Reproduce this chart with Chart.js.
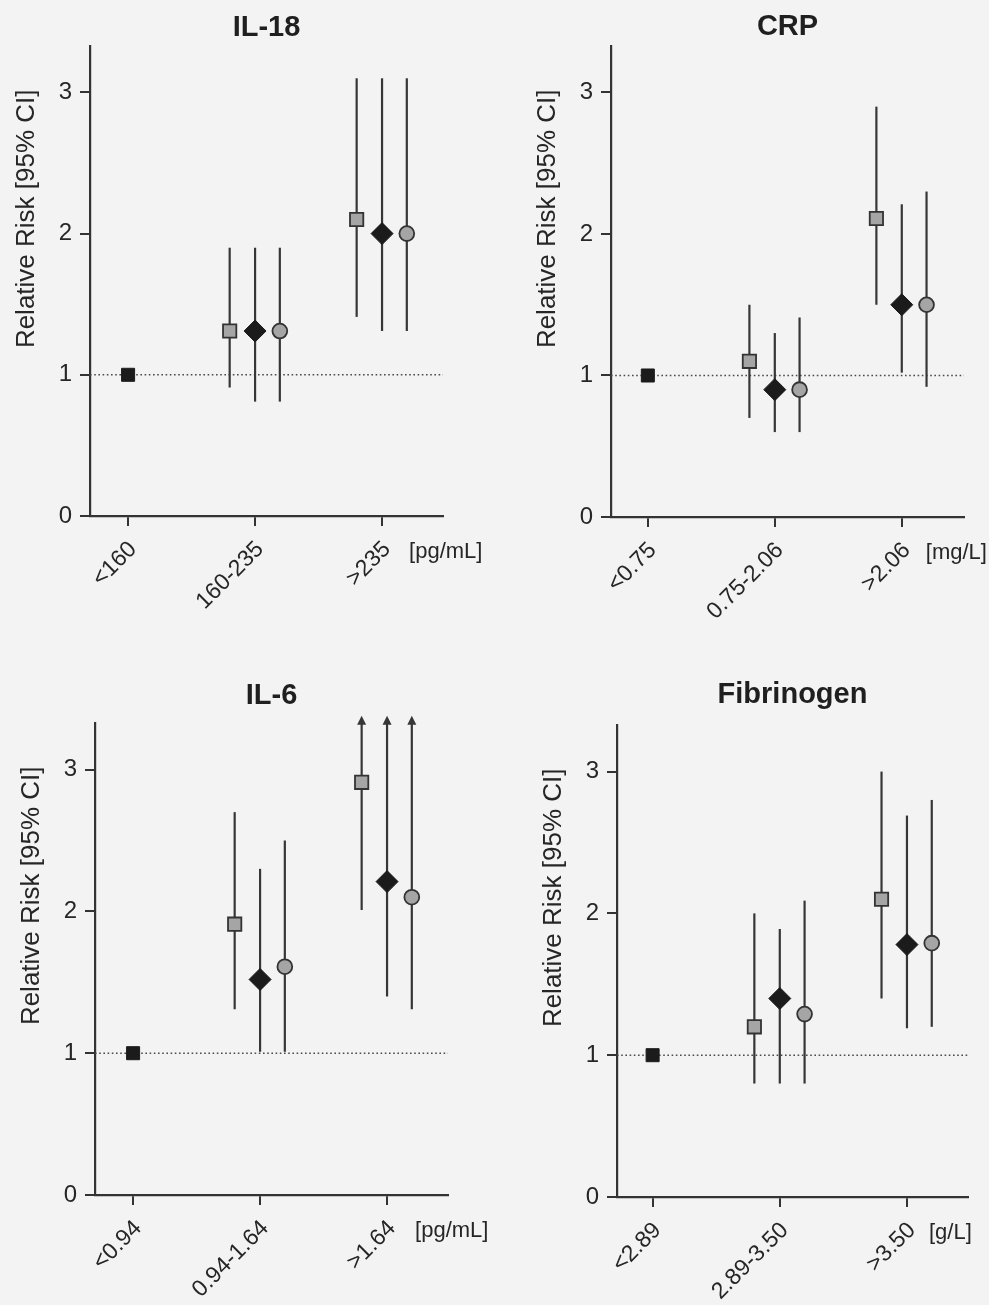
<!DOCTYPE html>
<html lang="en">
<head>
<meta charset="UTF-8">
<title>Relative risk by tertile</title>
<script src="https://cdn.jsdelivr.net/npm/chart.js@4.4.1/dist/chart.umd.min.js"></script>
<style>
  html, body { margin: 0; padding: 0; background: #f3f3f3; }
  #page { position: relative; width: 989px; height: 1305px; overflow: hidden; }
  .panel { position: absolute; }
  canvas { display: block; }
</style>
</head>
<body>
<div id="page">
  <div class="panel" style="left:0;top:0;"><canvas id="il18" width="495" height="640"></canvas></div>
  <div class="panel" style="left:495px;top:0;"><canvas id="crp" width="494" height="640"></canvas></div>
  <div class="panel" style="left:0;top:640px;"><canvas id="il6" width="495" height="665"></canvas></div>
  <div class="panel" style="left:495px;top:640px;"><canvas id="fib" width="494" height="665"></canvas></div>
</div>
<script>
// tertile labels
const il18Labels = ['<160', '160-235', '>235'];
const crpLabels = ['<0.75', '0.75-2.06', '>2.06'];
const il6Labels = ['<0.94', '0.94-1.64', '>1.64'];
const fibLabels = ['<2.89', '2.89-3.50', '>3.50'];

// lowest tertile is the reference group
const refRR = [1, null, null];

// three adjustment models per marker: estimate and [lower, upper] 95% CI
const il18Sq = [null, 1.31, 2.10];
const il18SqCI = [null, [0.91, 1.90], [1.41, 3.10]];
const il18Dm = [null, 1.31, 2.00];
const il18DmCI = [null, [0.81, 1.90], [1.31, 3.10]];
const il18Ci = [null, 1.31, 2.00];
const il18CiCI = [null, [0.81, 1.90], [1.31, 3.10]];

const crpSq = [null, 1.10, 2.11];
const crpSqCI = [null, [0.70, 1.50], [1.50, 2.90]];
const crpDm = [null, 0.90, 1.50];
const crpDmCI = [null, [0.60, 1.30], [1.02, 2.21]];
const crpCi = [null, 0.90, 1.50];
const crpCiCI = [null, [0.60, 1.41], [0.92, 2.30]];

// upper limit null = beyond the axis, drawn as an arrow
const il6Sq = [null, 1.91, 2.91];
const il6SqCI = [null, [1.31, 2.70], [2.01, null]];
const il6Dm = [null, 1.52, 2.21];
const il6DmCI = [null, [1.01, 2.30], [1.40, null]];
const il6Ci = [null, 1.61, 2.10];
const il6CiCI = [null, [1.01, 2.50], [1.31, null]];

const fibSq = [null, 1.20, 2.10];
const fibSqCI = [null, [0.80, 2.00], [1.40, 3.00]];
const fibDm = [null, 1.40, 1.78];
const fibDmCI = [null, [0.80, 1.89], [1.19, 2.69]];
const fibCi = [null, 1.29, 1.79];
const fibCiCI = [null, [0.80, 2.09], [1.20, 2.80]];

const yTicks = [0, 1, 2, 3];

const FONT = "'Liberation Sans', Arial, Helvetica, sans-serif";
const INK = '#262626';
const OFFSETS = [-0.2, 0, 0.195];   // side-by-side placement of the three models

Chart.defaults.font.family = FONT;
Chart.defaults.color = INK;

const panels = [
  { id: 'il18', title: 'IL-18', unit: '[pg/mL]', labels: il18Labels,
    series: [[il18Sq, il18SqCI], [il18Dm, il18DmCI], [il18Ci, il18CiCI]],
    padL: 0, padR: 52, xMin: -0.30, xMax: 2.48, xH: 124, tTop: 11, tBot: 0, unitDx: 27 },
  { id: 'crp', title: 'CRP', unit: '[mg/L]', labels: crpLabels,
    series: [[crpSq, crpSqCI], [crpDm, crpDmCI], [crpCi, crpCiCI]],
    padL: 26, padR: 25, xMin: -0.29, xMax: 2.49, xH: 123, tTop: 10, tBot: 1, unitDx: 24 },
  { id: 'il6', title: 'IL-6', unit: '[pg/mL]', labels: il6Labels,
    series: [[il6Sq, il6SqCI], [il6Dm, il6DmCI], [il6Ci, il6CiCI]],
    padL: 5, padR: 47, xMin: -0.30, xMax: 2.48, xH: 110, tTop: 39, tBot: 9, unitDx: 28 },
  { id: 'fib', title: 'Fibrinogen', unit: '[g/L]', labels: fibLabels,
    series: [[fibSq, fibSqCI], [fibDm, fibDmCI], [fibCi, fibCiCI]],
    padL: 32, padR: 21, xMin: -0.28, xMax: 2.48, xH: 108, tTop: 38, tBot: 12, unitDx: 22 }
];

// dotted RR = 1 line and the CI whiskers, under the markers
const whiskers = {
  id: 'whiskers',
  beforeDatasetsDraw(chart, args, opts) {
    const { ctx, chartArea } = chart;
    const xs = chart.scales.x, ys = chart.scales.y;
    ctx.save();
    const y1 = ys.getPixelForValue(1);
    ctx.strokeStyle = '#4a4a4a';
    ctx.lineWidth = 1.6;
    ctx.setLineDash([1.6, 2.6]);
    ctx.beginPath();
    ctx.moveTo(chartArea.left, y1);
    ctx.lineTo(chartArea.right, y1);
    ctx.stroke();
    ctx.setLineDash([]);

    ctx.strokeStyle = '#363636';
    ctx.fillStyle = '#363636';
    ctx.lineWidth = 2.2;
    opts.series.forEach(([est, ci], i) => {
      ci.forEach((lim, j) => {
        if (!lim) return;
        const x = xs.getPixelForValue(j + OFFSETS[i]);
        const yLo = ys.getPixelForValue(lim[0]);
        const yHi = lim[1] == null ? chartArea.top - 2 : ys.getPixelForValue(lim[1]);
        ctx.beginPath();
        ctx.moveTo(x, yLo);
        ctx.lineTo(x, yHi);
        ctx.stroke();
        if (lim[1] == null) {
          ctx.beginPath();
          ctx.moveTo(x, chartArea.top - 7);
          ctx.lineTo(x - 4.5, chartArea.top + 2);
          ctx.lineTo(x + 4.5, chartArea.top + 2);
          ctx.closePath();
          ctx.fill();
        }
      });
    });
    ctx.restore();
  }
};

// y axis title and the unit next to the last category
const axisText = {
  id: 'axisText',
  afterDraw(chart, args, opts) {
    const { ctx, chartArea } = chart;
    ctx.save();
    ctx.fillStyle = INK;
    ctx.font = '26px ' + FONT;
    ctx.translate(chartArea.left - 63, chartArea.top + 173);
    ctx.rotate(-Math.PI / 2);
    ctx.textAlign = 'center';
    ctx.textBaseline = 'middle';
    ctx.fillText('Relative Risk [95% CI]', 0, 0);
    ctx.restore();

    ctx.save();
    ctx.fillStyle = INK;
    ctx.font = '22px ' + FONT;
    ctx.textAlign = 'left';
    ctx.textBaseline = 'middle';
    ctx.fillText(opts.unit, chart.scales.x.getPixelForValue(2) + opts.unitDx, chartArea.bottom + 36);
    ctx.restore();
  }
};

function points(values, offset) {
  const out = [];
  values.forEach((v, j) => { if (v != null) out.push({ x: j + offset, y: v }); });
  return out;
}

function drawPanel(p) {
  const grey = '#a5a5a5', edge = '#333333', black = '#1b1b1b';
  const styles = [
    { pointStyle: 'rect', radius: 9.4, backgroundColor: grey, borderColor: edge, borderWidth: 1.8 },
    { pointStyle: 'rectRot', radius: 11, backgroundColor: black, borderColor: black, borderWidth: 1 },
    { pointStyle: 'circle', radius: 7.4, backgroundColor: grey, borderColor: edge, borderWidth: 1.8 }
  ];
  const datasets = [{
    data: points(refRR, 0),
    pointStyle: 'rect', pointRadius: 9.2,
    backgroundColor: black, borderColor: black, borderWidth: 1
  }];
  p.series.forEach(([est], i) => {
    const s = styles[i];
    datasets.push({
      data: points(est, OFFSETS[i]),
      pointStyle: s.pointStyle, pointRadius: s.radius,
      backgroundColor: s.backgroundColor, borderColor: s.borderColor, borderWidth: s.borderWidth
    });
  });

  new Chart(document.getElementById(p.id), {
    type: 'scatter',
    data: { datasets },
    plugins: [whiskers, axisText],
    options: {
      responsive: false,
      animation: false,
      devicePixelRatio: 1,
      clip: false,
      layout: { padding: { left: p.padL, right: p.padR, top: 0, bottom: 0 } },
      plugins: {
        legend: { display: false },
        tooltip: { enabled: false },
        title: {
          display: true, text: p.title, fullSize: false, color: '#1f1f1f',
          font: { size: 29, weight: 'bold' },
          padding: { top: p.tTop, bottom: p.tBot }
        },
        whiskers: { series: p.series },
        axisText: { unit: p.unit, unitDx: p.unitDx }
      },
      scales: {
        x: {
          type: 'linear', min: p.xMin, max: p.xMax,
          afterBuildTicks: s => { s.ticks = [0, 1, 2].map(v => ({ value: v })); },
          afterFit: s => { s.height = p.xH; },
          ticks: {
            autoSkip: false, minRotation: 45, maxRotation: 45, padding: 10, labelOffset: 5,
            font: { size: 23 }, color: INK,
            callback: v => p.labels[v]
          },
          grid: { drawOnChartArea: false, drawTicks: true, tickLength: 10, color: '#333', lineWidth: 2 },
          border: { color: '#333', width: 2.2 }
        },
        y: {
          type: 'linear', min: 0, max: 3.33,
          afterBuildTicks: s => { s.ticks = yTicks.map(v => ({ value: v })); },
          afterFit: s => { s.width = 90; },
          ticks: { padding: 8, font: { size: 24 }, color: INK },
          grid: { drawOnChartArea: false, drawTicks: true, tickLength: 10, color: '#333', lineWidth: 2 },
          border: { color: '#333', width: 2.2 }
        }
      }
    }
  });
}

panels.forEach(drawPanel);
</script>
</body>
</html>
